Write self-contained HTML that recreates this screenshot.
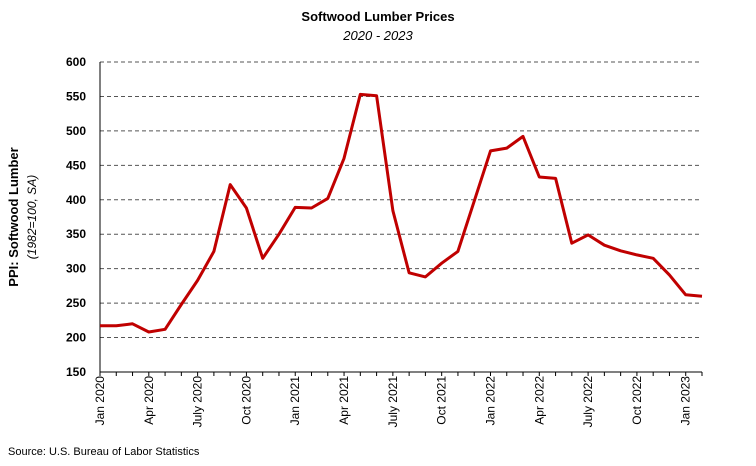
<!DOCTYPE html>
<html><head><meta charset="utf-8"><style>
body{margin:0;background:#fff;}
svg text{font-family:"Liberation Sans",sans-serif;fill:#000;}
</style></head><body>
<svg width="756" height="461" viewBox="0 0 756 461" xmlns="http://www.w3.org/2000/svg">
<text x="378" y="21" text-anchor="middle" font-size="13" font-weight="bold">Softwood Lumber Prices</text>
<text x="378" y="40" text-anchor="middle" font-size="13" font-style="italic">2020 - 2023</text>
<g id="grid" stroke="#555" stroke-dasharray="4,3" stroke-width="1"></g>
<g id="yl" font-size="12" font-weight="bold" text-anchor="end"></g>
<g id="xl" font-size="12"></g>
<line x1="100" y1="62" x2="100" y2="372" stroke="#000"/>
<line x1="100" y1="372" x2="702" y2="372" stroke="#000"/>
<g id="ticks" stroke="#000"></g>
<polyline id="ln" fill="none" stroke="#C00000" stroke-width="3" stroke-linejoin="round"/>
<text transform="translate(18,217) rotate(-90)" text-anchor="middle" font-size="13" font-weight="bold">PPI: Softwood Lumber</text>
<text transform="translate(36,217) rotate(-90)" text-anchor="middle" font-size="12" font-style="italic">(1982=100, SA)</text>
<text x="8" y="455" font-size="11">Source: U.S. Bureau of Labor Statistics</text>
</svg>
<script>
const ns="http://www.w3.org/2000/svg";
function Y(v){return 372-(v-150)*310/450;}
function X(i){return 100+i*16.27;}
const g=document.getElementById('grid'),yl=document.getElementById('yl'),xl=document.getElementById('xl'),tk=document.getElementById('ticks');
for(let v=150;v<=600;v+=50){
 if(v>150){let l=document.createElementNS(ns,'line');l.setAttribute('x1',100);l.setAttribute('x2',702);l.setAttribute('y1',Y(v));l.setAttribute('y2',Y(v));g.appendChild(l);}
 let t=document.createElementNS(ns,'text');t.setAttribute('x',86);t.setAttribute('y',Y(v)+4);t.textContent=v;yl.appendChild(t);
}
const labs=["Jan 2020","Apr 2020","July 2020","Oct 2020","Jan 2021","Apr 2021","July 2021","Oct 2021","Jan 2022","Apr 2022","July 2022","Oct 2022","Jan 2023"];
labs.forEach((s,k)=>{let x=X(k*3);let t=document.createElementNS(ns,'text');t.setAttribute('transform',`translate(${x+4},376) rotate(-90)`);t.setAttribute('text-anchor','end');t.textContent=s;xl.appendChild(t);});
for(let i=0;i<=37;i++){let l=document.createElementNS(ns,'line');l.setAttribute('x1',X(i));l.setAttribute('x2',X(i));l.setAttribute('y1',372);l.setAttribute('y2',376);tk.appendChild(l);}
const d=[217,217,220,208,212,248,283,325,422,388,315,350,389,388,402,460,553,551,384,294,288,308,325,398,471,475,492,433,431,337,349,334,326,320,315,291,262,260];
document.getElementById('ln').setAttribute('points',d.map((v,i)=>X(i).toFixed(1)+','+Y(v).toFixed(1)).join(' '));
</script>
</body></html>
